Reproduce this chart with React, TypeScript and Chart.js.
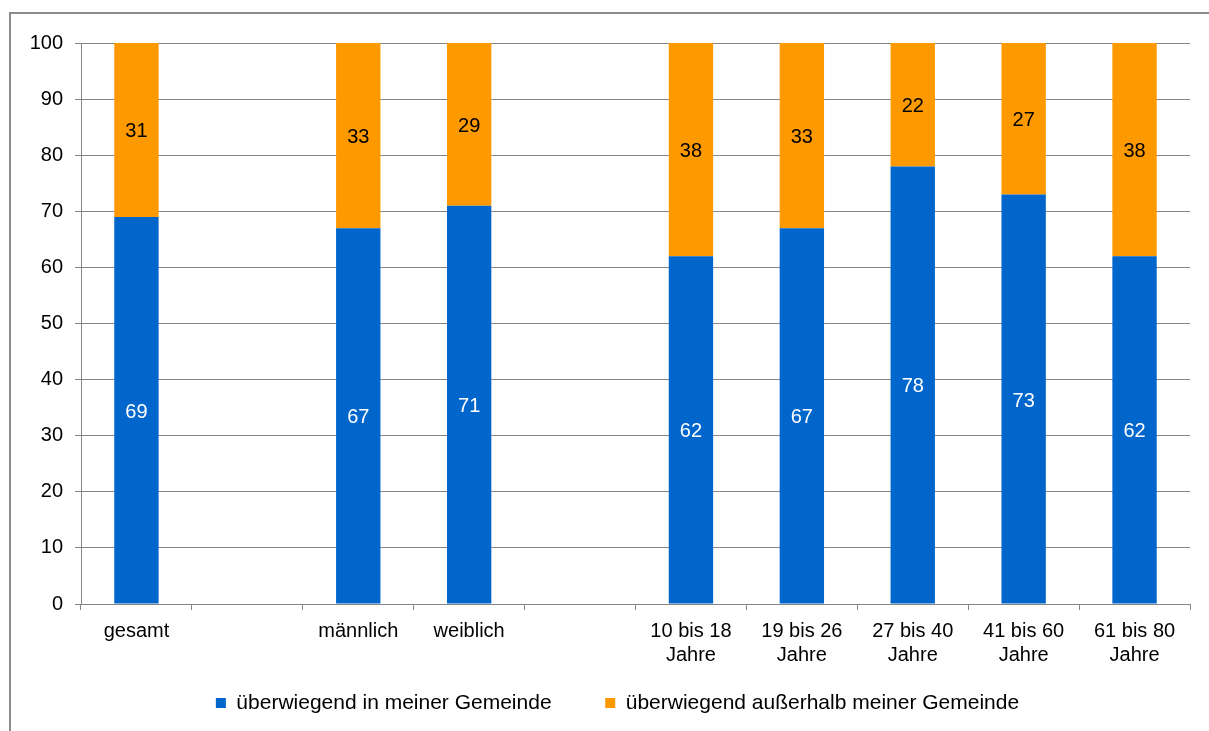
import React, { useEffect, useRef } from "react";
import { Chart, registerables } from "chart.js";

Chart.register(...registerables);

const categories: (string | string[])[] = [
  "gesamt",
  "",
  "männlich",
  "weiblich",
  "",
  ["10 bis 18", "Jahre"],
  ["19 bis 26", "Jahre"],
  ["27 bis 40", "Jahre"],
  ["41 bis 60", "Jahre"],
  ["61 bis 80", "Jahre"],
];

const insideValues: (number | null)[] = [69, null, 67, 71, null, 62, 67, 78, 73, 62];
const outsideValues: (number | null)[] = [31, null, 33, 29, null, 38, 33, 22, 27, 38];

const seriesNames = [
  "überwiegend in meiner Gemeinde",
  "überwiegend außerhalb meiner Gemeinde",
];

const yTicks = { min: 0, max: 100, step: 10 };

const FONT = "'Liberation Sans', Arial, sans-serif";
const GRID = "#868686";

const valueLabels = {
  id: "valueLabels",
  afterDatasetsDraw(chart: any) {
    const ctx = chart.ctx;
    ctx.save();
    ctx.font = `20px ${FONT}`;
    ctx.textAlign = "center";
    ctx.textBaseline = "middle";
    chart.data.datasets.forEach((ds: any, di: number) => {
      const meta = chart.getDatasetMeta(di);
      meta.data.forEach((el: any, i: number) => {
        const v = ds.data[i];
        if (v === null || v === undefined) return;
        const { x, y, base } = el.getProps(["x", "y", "base"], true);
        ctx.fillStyle = di === 0 ? "#ffffff" : "#000000";
        ctx.fillText(String(v), x, (y + base) / 2 + 2);
      });
    });
    ctx.restore();
  },
};

export default function App() {
  const ref = useRef<HTMLCanvasElement>(null);

  useEffect(() => {
    if (!ref.current) return;
    Chart.defaults.font.family = FONT;
    const chart = new Chart(ref.current, {
      type: "bar",
      data: {
        labels: categories as any,
        datasets: [
          {
            label: seriesNames[0],
            data: insideValues,
            backgroundColor: "#0066CC",
            barPercentage: 0.4,
            categoryPercentage: 1,
          },
          {
            label: seriesNames[1],
            data: outsideValues,
            backgroundColor: "#FF9900",
            barPercentage: 0.4,
            categoryPercentage: 1,
          },
        ],
      },
      options: {
        responsive: false,
        animation: false,
        devicePixelRatio: 1,
        layout: { padding: { top: 43, right: 0, bottom: 7.5, left: 26 } },
        plugins: {
          tooltip: { enabled: false },
          legend: {
            position: "bottom",
            labels: {
              boxWidth: 10,
              boxHeight: 10,
              padding: 24.5,
              color: "#000",
              font: { size: 21, family: FONT },
              generateLabels: (c: any) => {
                const items = (Chart.defaults.plugins.legend.labels as any).generateLabels(c);
                if (items[0]) items[0].text = items[0].text + "     ";
                return items;
              },
            },
          },
        },
        scales: {
          x: {
            stacked: true,
            offset: true,
            grid: {
              offset: true,
              drawOnChartArea: false,
              drawTicks: true,
              tickLength: 6,
              color: GRID,
            },
            border: { color: GRID, width: 1 },
            ticks: {
              color: "#000",
              font: { size: 20, family: FONT },
              padding: 9,
              maxRotation: 0,
              autoSkip: false,
            },
            afterFit: (scale: any) => {
              scale.height = 64;
            },
          },
          y: {
            stacked: true,
            min: yTicks.min,
            max: yTicks.max,
            grid: { color: GRID, tickLength: 6, drawTicks: true },
            border: { color: GRID, width: 1 },
            ticks: {
              stepSize: yTicks.step,
              color: "#000",
              font: { size: 20, family: FONT },
              padding: 12,
            },
            afterFit: (scale: any) => {
              scale.width = 55;
            },
          },
          spacer: {
            type: "linear",
            position: "right",
            display: true,
            grid: { display: false, drawTicks: false },
            border: { display: false },
            ticks: { display: false },
            afterFit: (scale: any) => {
              scale.width = 19;
            },
          },
        },
      },
      plugins: [valueLabels],
    });
    return () => chart.destroy();
  }, []);

  return (
    <div
      style={{
        position: "fixed",
        left: 0,
        top: 0,
        width: 1209,
        height: 731,
        overflow: "hidden",
        background: "#fff",
      }}
    >
      <div
        style={{
          position: "absolute",
          left: 9,
          top: 12,
          width: 1300,
          height: 900,
          border: "2px solid #8c8c8c",
          boxSizing: "border-box",
        }}
      />
      <canvas
        ref={ref}
        width={1209}
        height={731}
        style={{ position: "absolute", left: 0, top: 0, width: 1209, height: 731 }}
      />
    </div>
  );
}
